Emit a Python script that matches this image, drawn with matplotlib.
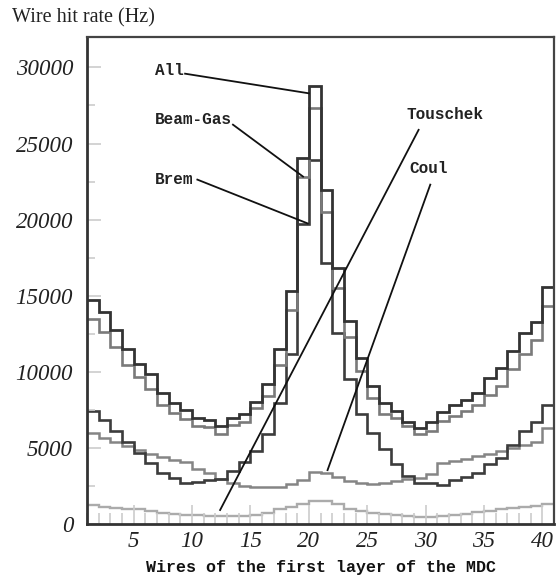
#!/usr/bin/env python3
"""Wire hit rate per wire of the first MDC layer, split by background source."""

import numpy as np
import matplotlib
matplotlib.use('Agg')
import matplotlib.pyplot as plt
from matplotlib.ticker import MultipleLocator

# ============ DATA ============
wires = list(range(1, 41))

rate_all = [14740, 13900, 12770, 11470, 10530, 9870, 8580, 7980, 7480, 6990,
            6840, 6450, 6990, 7260, 8030, 9230, 11520, 15330, 24060, 28780,
            21960, 16820, 13310, 10900, 9080, 7920, 7440, 6730, 6300, 6710,
            7370, 7850, 8140, 8640, 9610, 10220, 11360, 12570, 13290, 15590]

rate_beam_gas = [13470, 12590, 11650, 10420, 9630, 8860, 7810, 7320, 6890, 6430,
                 6400, 5940, 6510, 6730, 7610, 8420, 10440, 14060, 22790, 27330,
                 20530, 15510, 12260, 10070, 8310, 7220, 6990, 6450, 5900, 6100,
                 6750, 7100, 7400, 7800, 8500, 9100, 10200, 11200, 12100, 14300]

rate_brem = [7440, 6820, 6140, 5400, 4690, 4030, 3380, 3010, 2720, 2750,
             2900, 2940, 3490, 4080, 4800, 5900, 7920, 11170, 19720, 23930,
             17170, 12520, 9520, 7220, 6010, 4920, 3970, 3160, 2720, 2720,
             2590, 2870, 3090, 3380, 3970, 4340, 5180, 6100, 6710, 7850]

rate_coul = [5990, 5680, 5420, 5130, 4870, 4630, 4410, 4190, 4080, 3600,
             3380, 2940, 2720, 2500, 2450, 2430, 2450, 2650, 2870, 3400,
             3350, 3100, 2850, 2680, 2650, 2720, 2830, 2950, 3000, 3300,
             4000, 4150, 4280, 4450, 4600, 4800, 5000, 5180, 5400, 6300]

rate_touschek = [1230, 1150, 1050, 1000, 1000, 850, 720, 650, 600, 560,
                 520, 500, 500, 520, 580, 720, 980, 1150, 1300, 1480,
                 1480, 1330, 1000, 880, 720, 650, 560, 500, 470, 470,
                 520, 600, 680, 780, 850, 1000, 1080, 1150, 1200, 1330]

# label text, text anchor (x, y), line start, line end -- all in data units
labels = [
    ('All', (6.8, 29780), (9.4, 29590), (20.0, 28300)),
    ('Beam-Gas', (6.8, 26570), (13.5, 26240), (19.5, 22830)),
    ('Brem', (6.8, 22630), (10.45, 22630), (19.9, 19750)),
    ('Touschek', (28.4, 26900), (29.4, 25900), (12.4, 920)),
    ('Coul', (28.6, 23350), (30.4, 22300), (21.6, 3540)),
]

# ============ PLOT ============
fig = plt.figure(figsize=(5.56, 5.81), dpi=100)
ax = fig.add_axes([0.1565, 0.0981, 0.8400, 0.8382])

edges = np.append(wires, wires[-1] + 1)
series = [
    (rate_touschek, '#ababab', 1.7),
    (rate_coul, '#858585', 1.8),
    (rate_brem, '#3c3c3c', 1.9),
    (rate_beam_gas, '#7a7a7a', 1.9),
    (rate_all, '#333333', 2.0),
]
for vals, col, lw in series:
    ax.stairs(vals, edges, baseline=None, color=col, lw=lw)

mono = dict(family='Liberation Mono', weight='bold', size=11.5, color='#222222')
for txt, (tx, ty), (x0, y0), (x1, y1) in labels:
    ax.text(tx, ty, txt, ha='left', va='center', **mono)
    ax.plot([x0, x1], [y0, y1], color='#111111', lw=1.3)

ax.set_xlim(1, 41)
ax.set_ylim(0, 32000)

ax.xaxis.set_major_locator(MultipleLocator(5))
ax.xaxis.set_minor_locator(MultipleLocator(1))
ax.yaxis.set_major_locator(MultipleLocator(5000))
ax.yaxis.set_minor_locator(MultipleLocator(2500))
ax.set_xticks([5, 10, 15, 20, 25, 30, 35, 40])

ax.tick_params(axis='both', which='both', direction='in', color='#cccccc', width=1.2,
               top=False, right=False)
ax.tick_params(axis='x', which='major', length=14, pad=5)
ax.tick_params(axis='x', which='minor', length=8)
ax.tick_params(axis='y', which='major', length=10, pad=10)
ax.tick_params(axis='y', which='minor', length=6)

for lab in ax.get_xticklabels() + ax.get_yticklabels():
    lab.set_family('Liberation Serif')
    lab.set_style('italic')
    lab.set_fontsize(16.5)
    lab.set_color('#222222')

for side in ['left', 'bottom']:
    ax.spines[side].set_linewidth(2.0)
    ax.spines[side].set_color('#333333')
for side in ['top', 'right']:
    ax.spines[side].set_linewidth(1.6)
    ax.spines[side].set_color('#444444')

ax.set_xlabel('Wires of the first layer of the MDC', family='Liberation Mono',
              weight='bold', fontsize=12, color='#111111', labelpad=6)
fig.text(12 / 556, 1 - 18 / 581, 'Wire hit rate (Hz)', family='Liberation Serif',
         fontsize=14.5, ha='left', va='center', color='#222222')

fig.savefig('out.png', dpi=100)
